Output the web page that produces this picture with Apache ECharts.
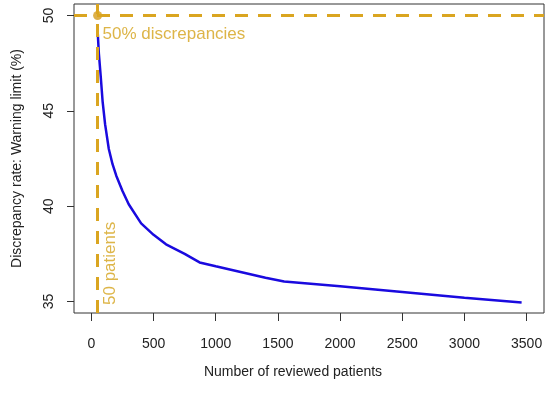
<!DOCTYPE html>
<html>
<head>
<meta charset="utf-8">
<script src="https://cdn.jsdelivr.net/npm/echarts@6/dist/echarts.min.js"></script>
<style>
html,body{margin:0;padding:0;background:#fff;}
#chart{width:550px;height:393px;}
</style>
</head>
<body>
<div id="chart"></div>
<script>
// Data
const patients = [50, 60, 75, 90, 110, 140, 170, 200, 250, 300, 400, 500, 600, 750, 870, 1000, 1200, 1400, 1550, 2000, 2500, 3000, 3460];
const warningLimit = [49.2, 48.0, 46.8, 45.5, 44.3, 43.0, 42.2, 41.6, 40.8, 40.1, 39.1, 38.5, 38.0, 37.5, 37.05, 36.85, 36.55, 36.25, 36.05, 35.8, 35.5, 35.2, 34.95];
const xTicks = [0, 500, 1000, 1500, 2000, 2500, 3000, 3500];
const yTicks = [35, 40, 45, 50];
const refPatients = 50;
const refRate = 50;
const labelDiscrepancies = '50% discrepancies';
const labelPatients = '50 patients';
const labelDiscrepanciesAt = [50, 49];
const labelPatientsAt = [50, 37];

const gold = '#DAA520';
const font = 'Liberation Sans, Arial, sans-serif';

const chart = echarts.init(document.getElementById('chart'), null, {renderer: 'canvas'});
chart.setOption({
  animation: false,
  backgroundColor: '#fff',
  grid: {left: 74, right: 6, top: 4, bottom: 80, show: true, borderColor: '#333', borderWidth: 1, backgroundColor: 'transparent'},
  xAxis: {
    type: 'value', min: -140, max: 3640,
    name: 'Number of reviewed patients', nameLocation: 'middle', nameGap: 52,
    nameTextStyle: {fontFamily: font, fontSize: 14, color: '#222', padding: [0, 32, 0, 0]},
    axisLine: {show: false, onZero: false},
    splitLine: {show: false},
    axisTick: {show: true, length: 8, inside: false, customValues: xTicks, lineStyle: {color: '#333'}},
    axisLabel: {customValues: xTicks, margin: 24, fontFamily: font, fontSize: 14, color: '#222', formatter: v => String(v)}
  },
  yAxis: {
    type: 'value', min: 34.4, max: 50.6,
    name: 'Discrepancy rate: Warning limit (%)', nameLocation: 'middle', nameGap: 50,
    nameTextStyle: {fontFamily: font, fontSize: 14, color: '#222'},
    axisLine: {show: false, onZero: false},
    splitLine: {show: false},
    axisTick: {show: true, length: 7, inside: false, customValues: yTicks, lineStyle: {color: '#333'}},
    axisLabel: {customValues: yTicks, rotate: 90, margin: 18, fontFamily: font, fontSize: 14, color: '#222', formatter: v => String(v)}
  },
  series: [
    {
      type: 'line', data: patients.map((p, i) => [p, warningLimit[i]]),
      showSymbol: false, lineStyle: {color: '#1a0adf', width: 2.5}, z: 3,
      markLine: {
        silent: true, symbol: 'none', label: {show: false},
        lineStyle: {color: gold, width: 3, type: [13, 10]},
        data: [{yAxis: refRate}, {xAxis: refPatients}]
      }
    },
    {
      type: 'scatter', data: [[refPatients, refRate]], symbolSize: 9,
      itemStyle: {color: '#d49c1c'}, z: 4
    },
    {
      type: 'scatter', symbolSize: 0, z: 5,
      data: [
        {value: labelDiscrepanciesAt, label: {show: true, formatter: labelDiscrepancies, position: 'right', distance: 5, align: 'left', verticalAlign: 'middle'}},
        {value: labelPatientsAt, label: {show: true, formatter: labelPatients, position: 'inside', rotate: 90, offset: [0, 13], align: 'center', verticalAlign: 'middle'}}
      ],
      label: {fontFamily: font, fontSize: 17, color: '#d4a21a'}
    }
  ]
});
</script>
</body>
</html>
